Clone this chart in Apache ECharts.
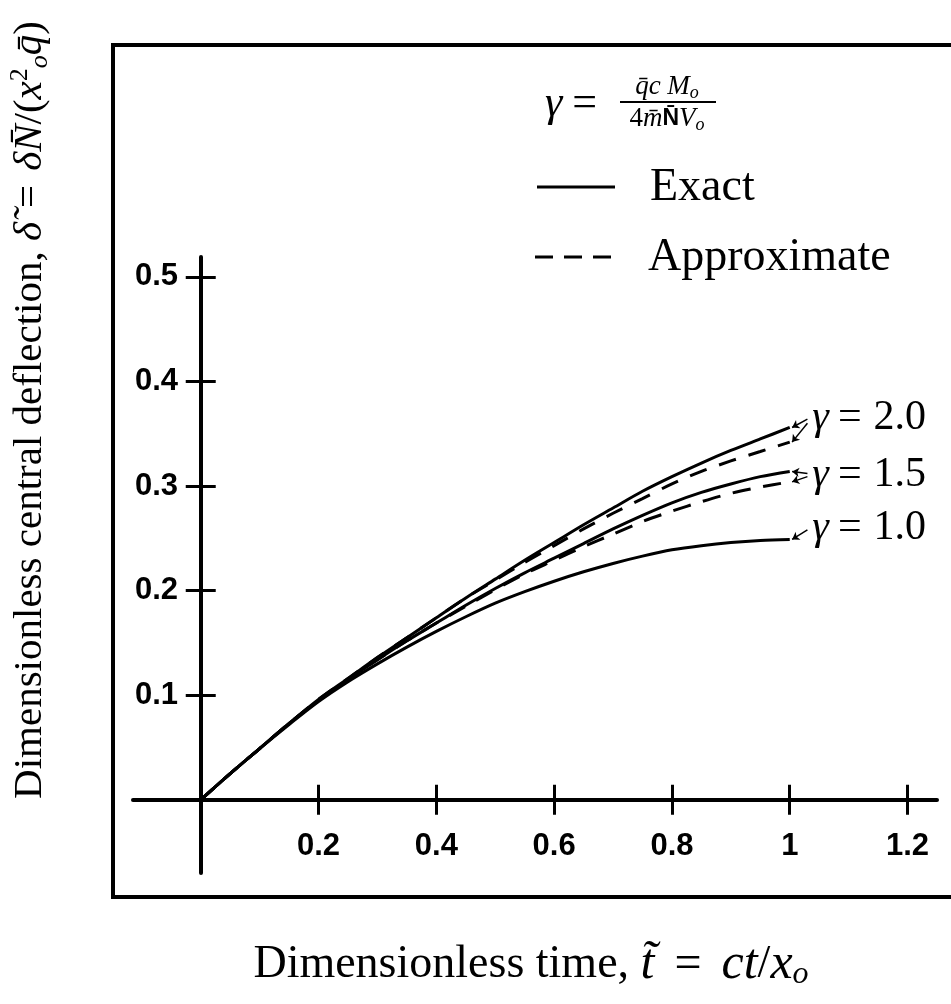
<!DOCTYPE html>
<html lang="en">
<head>
    <meta charset="UTF-8">
    <title>Central deflection</title>
    <script src="https://cdn.jsdelivr.net/npm/echarts@6.0.0/dist/echarts.min.js"></script>
    <style>
        html, body { margin: 0; padding: 0; background: #fff; }
        #container { width: 951px; height: 1004px; }
    </style>
</head>
<body>
<div id="container"></div>

<script type="text/javascript">
    // dimensionless time
    var tVals = [0, 0.05, 0.1, 0.15, 0.2, 0.25, 0.3, 0.35, 0.4, 0.45, 0.5,
        0.55, 0.6, 0.65, 0.7, 0.75, 0.8, 0.85, 0.9, 0.95, 1.0];

    // exact solutions
    var exact20 = [0, 0.025, 0.049, 0.073, 0.096, 0.116, 0.136, 0.155, 0.174, 0.193, 0.211,
        0.229, 0.246, 0.263, 0.279, 0.295, 0.309, 0.322, 0.334, 0.345, 0.356];
    var exact15 = [0, 0.025, 0.049, 0.073, 0.095, 0.115, 0.134, 0.152, 0.169, 0.186, 0.202,
        0.217, 0.231, 0.245, 0.259, 0.272, 0.284, 0.294, 0.302, 0.309, 0.314];
    var exact10 = [0, 0.025, 0.049, 0.072, 0.094, 0.113, 0.130, 0.146, 0.161, 0.175, 0.188,
        0.199, 0.209, 0.218, 0.226, 0.233, 0.239, 0.243, 0.246, 0.248, 0.249];

    // approximate solutions
    var approx20 = [0, 0.025, 0.049, 0.073, 0.096, 0.116, 0.136, 0.155, 0.174, 0.193, 0.210,
        0.227, 0.243, 0.259, 0.274, 0.288, 0.302, 0.314, 0.324, 0.333, 0.342];
    var approx15 = [0, 0.025, 0.049, 0.073, 0.095, 0.115, 0.134, 0.152, 0.169, 0.185, 0.201,
        0.216, 0.229, 0.242, 0.254, 0.266, 0.276, 0.285, 0.293, 0.299, 0.304];

    var xTicks = [0.2, 0.4, 0.6, 0.8, 1, 1.2];
    var yTicks = [0.1, 0.2, 0.3, 0.4, 0.5];

    // curve labels: text and where they sit (t, delta)
    var curveNames = ['2.0', '1.5', '1.0'];
    var labelPos = [[1.035, 0.365], [1.035, 0.311], [1.035, 0.260]];

    var serif = "'Liberation Serif', 'DejaVu Serif', serif";
    var sans = "'Liberation Sans', Arial, sans-serif";

    function pairs(ys) {
        return tVals.map(function (t, i) { return [t, ys[i]]; });
    }

    function arrow(from, to) {
        return [{ coord: from }, { coord: to }];
    }

    var markLineBase = {
        silent: true,
        symbol: ['none', 'arrow'],
        symbolSize: 7,
        lineStyle: { color: '#000', width: 1.5, type: 'solid' },
        label: { show: false },
        animation: false
    };

    function curveLabel(i) {
        return {
            silent: true,
            animation: false,
            data: [{
                coord: labelPos[i],
                symbol: 'circle',
                symbolSize: 0,
                label: {
                    show: true,
                    position: 'right',
                    distance: 2,
                    formatter: '{g|γ}{e|=}{n|' + curveNames[i] + '}',
                    color: '#000',
                    rich: {
                        g: { fontStyle: 'italic', fontFamily: serif, fontSize: 42, color: '#000' },
                        e: { fontFamily: serif, fontSize: 42, color: '#000', padding: [0, 12, 0, 9] },
                        n: { fontFamily: serif, fontSize: 42, color: '#000' }
                    }
                }
            }]
        };
    }

    function lineSeries(ys, dashed) {
        return {
            type: 'line',
            data: pairs(ys),
            showSymbol: false,
            symbol: 'none',
            smooth: 0.3,
            silent: true,
            lineStyle: { color: '#000', width: 3, type: dashed ? [18, 13] : 'solid' }
        };
    }

    var s20 = lineSeries(exact20, false);
    s20.markPoint = curveLabel(0);
    s20.markLine = Object.assign({}, markLineBase, {
        data: [arrow([1.03, 0.364], [1.004, exact20[20]])]
    });
    var s15 = lineSeries(exact15, false);
    s15.markPoint = curveLabel(1);
    s15.markLine = Object.assign({}, markLineBase, {
        data: [arrow([1.03, 0.312], [1.004, exact15[20]])]
    });
    var s10 = lineSeries(exact10, false);
    s10.markPoint = curveLabel(2);
    s10.markLine = Object.assign({}, markLineBase, {
        data: [arrow([1.03, 0.258], [1.004, exact10[20]])]
    });
    var a20 = lineSeries(approx20, true);
    a20.markLine = Object.assign({}, markLineBase, {
        data: [arrow([1.03, 0.360], [1.004, approx20[20]])]
    });
    var a15 = lineSeries(approx15, true);
    a15.markLine = Object.assign({}, markLineBase, {
        data: [arrow([1.03, 0.309], [1.004, approx15[20]])]
    });

    function valueAxis(pos, ticks, showLine, showLabel, extent, margin) {
        return {
            type: 'value',
            position: pos,
            min: extent[0],
            max: extent[1],
            axisLine: {
                show: showLine,
                onZero: true,
                onZeroAxisIndex: 0,
                lineStyle: { color: '#000', width: 4 }
            },
            axisTick: {
                show: true,
                customValues: ticks,
                length: 15,
                inside: false,
                lineStyle: { color: '#000', width: 3 }
            },
            axisLabel: {
                show: showLabel,
                customValues: ticks,
                margin: margin,
                color: '#000',
                fontFamily: sans,
                fontWeight: 'bold',
                fontSize: 31
            },
            splitLine: { show: false }
        };
    }

    var dom = document.getElementById('container');
    var myChart = echarts.init(dom, null, { renderer: 'canvas' });

    var option = {
        animation: false,
        backgroundColor: '#fff',
        grid: { left: 133, right: 14, top: 257, bottom: 131, outerBoundsMode: 'none' },
        xAxis: [
            // labels sit at the grid edge, so pull them up to the zero line
            valueAxis('bottom', xTicks, true, true, [-0.115, 1.25], -42),
            valueAxis('top', xTicks, false, false, [-0.115, 1.25], 8)
        ],
        yAxis: [
            valueAxis('left', yTicks, true, true, [-0.07, 0.519], -45),
            valueAxis('right', yTicks, false, false, [-0.07, 0.519], 8)
        ],
        series: [s10, s15, s20, a15, a20],
        graphic: [
            // frame
            {
                type: 'rect', silent: true,
                shape: { x: 113, y: 45, width: 900, height: 852 },
                style: { fill: 'none', stroke: '#000', lineWidth: 4 }
            },
            // legend formula
            {
                type: 'text', x: 545, y: 104, silent: true,
                style: {
                    text: '{g|γ}{e|=}',
                    verticalAlign: 'middle', align: 'left',
                    rich: {
                        g: { fontFamily: serif, fontStyle: 'italic', fontSize: 44, fill: '#000' },
                        e: { fontFamily: serif, fontSize: 44, fill: '#000', padding: [0, 0, 0, 10] }
                    }
                }
            },
            {
                type: 'text', x: 667, y: 87, silent: true,
                style: {
                    text: '{i|q\u0304c}{i| M}{s|o}',
                    align: 'center', verticalAlign: 'middle',
                    rich: {
                        i: { fontFamily: serif, fontStyle: 'italic', fontSize: 27, lineHeight: 30, fill: '#000' },
                        s: { fontFamily: serif, fontStyle: 'italic', fontSize: 18, lineHeight: 18, verticalAlign: 'bottom', fill: '#000' }
                    }
                }
            },
            {
                type: 'line', silent: true,
                shape: { x1: 620, y1: 102, x2: 716, y2: 102 },
                style: { stroke: '#000', lineWidth: 2 }
            },
            {
                type: 'text', x: 667, y: 119, silent: true,
                style: {
                    text: '{n|4}{i|m\u0304}{b|N\u0304}{i|V}{s|o}',
                    align: 'center', verticalAlign: 'middle',
                    rich: {
                        n: { fontFamily: serif, fontSize: 27, lineHeight: 30, fill: '#000' },
                        i: { fontFamily: serif, fontStyle: 'italic', fontSize: 27, lineHeight: 30, fill: '#000' },
                        b: { fontFamily: sans, fontWeight: 'bold', fontSize: 23, lineHeight: 30, fill: '#000' },
                        s: { fontFamily: serif, fontStyle: 'italic', fontSize: 18, lineHeight: 18, verticalAlign: 'bottom', fill: '#000' }
                    }
                }
            },
            // legend entries
            {
                type: 'line', silent: true,
                shape: { x1: 537, y1: 187, x2: 615, y2: 187 },
                style: { stroke: '#000', lineWidth: 3 }
            },
            {
                type: 'text', x: 650, y: 188, silent: true,
                style: { text: 'Exact', font: '46px ' + serif, fill: '#000', verticalAlign: 'middle' }
            },
            {
                type: 'line', silent: true,
                shape: { x1: 535, y1: 257, x2: 611, y2: 257 },
                style: { stroke: '#000', lineWidth: 3, lineDash: [18, 11] }
            },
            {
                type: 'text', x: 648, y: 258, silent: true,
                style: { text: 'Approximate', font: '46px ' + serif, fill: '#000', verticalAlign: 'middle' }
            },
            // axis titles
            {
                type: 'text', x: 531, y: 965, silent: true,
                style: {
                    text: '{r|Dimensionless time, }{i|t\u0303}{e|=}{i|ct}{r|/}{i|x}{s|o}',
                    align: 'center', verticalAlign: 'middle',
                    rich: {
                        r: { fontFamily: serif, fontSize: 46, lineHeight: 52, fill: '#000' },
                        i: { fontFamily: serif, fontStyle: 'italic', fontSize: 50, lineHeight: 52, fill: '#000' },
                        e: { fontFamily: serif, fontSize: 48, lineHeight: 52, fill: '#000', padding: [0, 20, 0, 20] },
                        s: { fontFamily: serif, fontStyle: 'italic', fontSize: 32, lineHeight: 32, verticalAlign: 'bottom', fill: '#000' }
                    }
                }
            },
            {
                type: 'text', x: 30, y: 410, rotation: Math.PI / 2, silent: true,
                style: {
                    text: '{r|Dimensionless central deflection, }{i|δ\u0303}{e|=}{i|δN\u0304}{r|/(}{i|x}{p|2}{s|o}{i|q\u0304}{r|)}',
                    align: 'center', verticalAlign: 'middle',
                    rich: {
                        r: { fontFamily: serif, fontSize: 41, lineHeight: 46, fill: '#000' },
                        i: { fontFamily: serif, fontStyle: 'italic', fontSize: 41, lineHeight: 46, fill: '#000' },
                        e: { fontFamily: serif, fontSize: 41, lineHeight: 46, fill: '#000', padding: [0, 14, 0, 14] },
                        p: { fontFamily: serif, fontSize: 26, lineHeight: 28, verticalAlign: 'top', fill: '#000' },
                        s: { fontFamily: serif, fontStyle: 'italic', fontSize: 26, lineHeight: 28, verticalAlign: 'bottom', fill: '#000' }
                    }
                }
            }
        ]
    };

    if (option && typeof option === 'object') {
        myChart.setOption(option);
    }

    window.addEventListener('resize', myChart.resize);
</script>
</body>
</html>
